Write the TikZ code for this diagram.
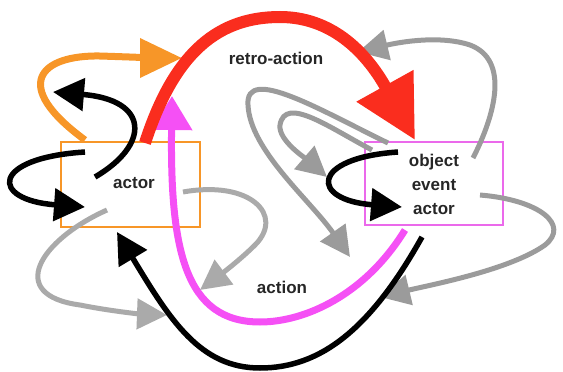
\documentclass[tikz,border=0pt]{standalone}
\usepackage{fontspec}
\setmainfont{Liberation Sans}
\usetikzlibrary{arrows.meta}
\definecolor{cred}{RGB}{250,45,30}
\definecolor{corange}{RGB}{247,150,40}
\definecolor{cmag}{RGB}{245,80,245}
\definecolor{cmagbox}{RGB}{235,105,235}
\definecolor{cgrey}{RGB}{155,155,155}
\definecolor{clgrey}{RGB}{170,170,170}
\tikzset{
  lbl/.style={font=\bfseries\fontsize{17}{24}\selectfont, text=black!85, inner sep=0pt, align=center},
  boxA/.style={draw=corange, line width=2pt, minimum width=139pt, minimum height=85pt, inner sep=0pt},
  boxB/.style={draw=cmagbox, line width=2pt, minimum width=138pt, minimum height=83pt, inner sep=0pt},
  redarrow/.style={draw=cred, line width=12pt, -{Triangle[length=62pt,width=62pt]}},
  orangearrow/.style={draw=corange, line width=7pt, -{Triangle[length=42pt,width=38pt]}},
  magarrow/.style={draw=cmag, line width=7pt, -{Triangle[length=34pt,width=40pt]}},
  blackarrow/.style={draw=black, line width=5.5pt, -{Triangle[length=31pt,width=32pt]}},
  greyarrow/.style={draw=cgrey, line width=5pt, -{Triangle[length=30pt,width=30pt]}},
  lgreyarrow/.style={draw=clgrey, line width=5pt, -{Triangle[length=30pt,width=30pt]}}
}
\begin{document}
\begin{tikzpicture}[x=1pt,y=-1pt]
\useasboundingbox (0,0) rectangle (563,372);
% boxes
\node[boxA] (lb) at (130.5,184.5) {};
\node[boxB] (rb) at (434,183.5) {};
% coordinates
\coordinate (rs) at (145,143);
\coordinate (rp) at (280,17);
\coordinate (rt) at (415,140);
\coordinate (os) at (85,140);
\coordinate (om) at (100,56);
\coordinate (ot) at (182,58);
\coordinate (btls) at (95,177);
\coordinate (btlt) at (53,92);
\coordinate (bls) at (85,152);
\coordinate (blt) at (85,207);
\coordinate (brs) at (398,152);
\coordinate (brt) at (402,207);
\coordinate (bbs) at (422,237);
\coordinate (bbm) at (260,368);
\coordinate (bbt) at (117,232);
\coordinate (ms) at (405,230);
\coordinate (mm) at (260,322);
\coordinate (mt) at (172,96);
\coordinate (gas) at (473,158);
\coordinate (gam) at (470,45);
\coordinate (gat) at (358,52);
\coordinate (gos) at (388,143);
\coordinate (gom) at (248,105);
\coordinate (got) at (350,257);
\coordinate (gis) at (372,150);
\coordinate (gim) at (280,125);
\coordinate (git) at (327,177);
\coordinate (gcs) at (480,195);
\coordinate (gcm) at (545,245);
\coordinate (gct) at (380,297);
\coordinate (gds) at (183,192);
\coordinate (gdm) at (255,245);
\coordinate (gdt) at (200,290);
\coordinate (ges) at (107,210);
\coordinate (gem) at (80,305);
\coordinate (get) at (167,315);
% magenta
\draw[magarrow] (ms) .. controls (365,295) and (305,322) .. (mm) .. controls (185,322) and (170,250) .. (mt);
% greys
\draw[greyarrow] (gas) .. controls (495,115) and (510,60) .. (gam) .. controls (440,35) and (400,42) .. (gat);
\draw[greyarrow] (gos) .. controls (320,110) and (245,65) .. (gom) .. controls (250,150) and (310,200) .. (got);
\draw[greyarrow] (gis) .. controls (330,128) and (285,95) .. (gim) .. controls (278,140) and (305,158) .. (git);
\draw[greyarrow] (gcs) .. controls (540,200) and (570,225) .. (gcm) .. controls (510,270) and (430,285) .. (gct);
\draw[lgreyarrow] (gds) .. controls (250,180) and (285,215) .. (gdm) .. controls (240,260) and (220,275) .. (gdt);
\draw[lgreyarrow] (ges) .. controls (40,240) and (5,295) .. (gem) .. controls (110,311) and (140,314) .. (get);
% blacks
\draw[blackarrow] (bbs) .. controls (370,330) and (320,368) .. (bbm) .. controls (200,368) and (170,320) .. (bbt);
\draw[blackarrow] (btls) .. controls (150,145) and (150,100) .. (btlt);
\draw[blackarrow] (bls) .. controls (-10,158) and (-10,200) .. (blt);
\draw[blackarrow] (brs) .. controls (310,158) and (310,200) .. (brt);
% orange
\draw[orangearrow] (os) .. controls (10,85) and (40,55) .. (om) .. controls (130,57) and (160,58) .. (ot);
% red
\draw[redarrow] (rs) .. controls (175,50) and (220,17) .. (rp) .. controls (330,17) and (365,50) .. (rt);
% labels
\node[lbl] (t1) at (134,183) {actor};
\node[lbl] (t2) at (434,184) {object\\event\\actor};
\node[lbl] (t3) at (276,58) {retro-action};
\node[lbl] (t4) at (282,287) {action};
\end{tikzpicture}
\end{document}
